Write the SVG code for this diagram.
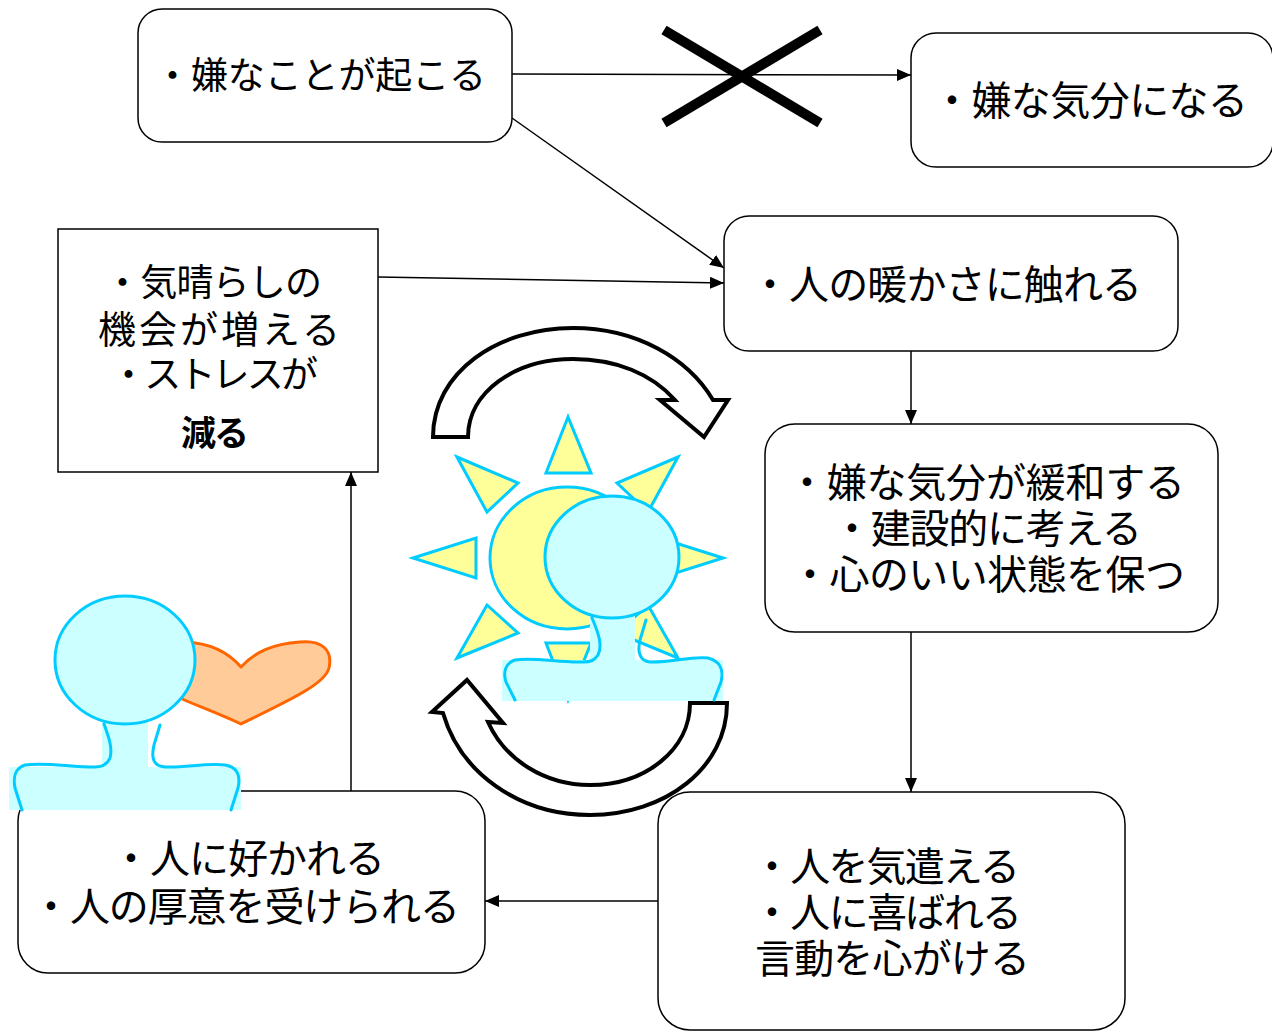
<svg xmlns="http://www.w3.org/2000/svg" width="1272" height="1032" viewBox="0 0 1272 1032">
  <defs>
    <style>
      .box { fill: #fff; stroke: #000; stroke-width: 1.5; }
      .t { font-family: "Noto Sans CJK JP", "Noto Sans", sans-serif; font-size: 40px; fill: #000; }
      .edge { fill: none; stroke: #000; stroke-width: 1.5; }
      .cycle { fill: #fff; stroke: #000; stroke-width: 4; stroke-linejoin: miter; }
      .ray { fill: #FFFF99; stroke: #00CCFF; stroke-width: 3; stroke-linejoin: miter; }
      .skin { fill: #CCFFFF; }
      .outline { fill: none; stroke: #00CCFF; stroke-width: 3; stroke-linecap: round; }
      .head { fill: #CCFFFF; stroke: #00CCFF; stroke-width: 3; }
    </style>
    <marker id="arr" markerWidth="14" markerHeight="12" refX="14" refY="6" orient="auto" markerUnits="userSpaceOnUse">
      <path d="M0,0 L14,6 L0,12 z" fill="#000"/>
    </marker>
  </defs>

  <!-- cycle arrows around the sun -->
  <g id="cycle-arrows">
    <path class="cycle" d="M433,437 C433,372 498,328 573,328 C636,328 688,358 713,400 L728,400 L704,437 L660,400 L675,400 C652,374 616,359 573,359 C515,359 468,392 468,437 Z"/>
    <path class="cycle" d="M727,703 C727,768 665,815 590,815 C518,815 460,772 443,713 L432,712 L467,680 L503,723 L488,722 C505,760 545,785 590,785 C645,785 690,750 690,703 Z"/>
  </g>

  <!-- sun -->
  <g id="sun">
    <polygon class="ray" points="568,417 546,473 591,473"/>
    <polygon class="ray" points="457,457 518,483 487,512"/>
    <polygon class="ray" points="678,457 617,483 648,512"/>
    <polygon class="ray" points="413,558 476,538 476,578"/>
    <polygon class="ray" points="723,558 660,538 660,578"/>
    <polygon class="ray" points="457,658 518,633 487,605"/>
    <polygon class="ray" points="678,658 617,633 648,605"/>
    <polygon class="ray" points="568,700 546,643 591,643"/>
    <ellipse class="ray" cx="567" cy="558" rx="77" ry="71"/>
  </g>

  <!-- person in front of the sun -->
  <g id="person-center">
    <rect class="skin" x="590" y="615" width="45" height="47"/>
    <rect class="skin" x="502" y="660" width="221" height="41"/>
    <ellipse class="head" cx="612" cy="557" rx="67" ry="61"/>
    <path class="outline" d="M592,618 C598,632 603,645 598,655 C594,661 590,662 583,662 C560,663 535,657 515,660 C505,663 503,673 506,682 L515,700"/>
    <path class="outline" d="M646,620 L640,640 C637,652 640,661 650,662 C670,663 690,656 708,658 C720,661 724,670 721,682 L714,700"/>
  </g>

  <!-- connectors -->
  <g id="connectors">
    <line class="edge" x1="512" y1="74" x2="911" y2="75" marker-end="url(#arr)"/>
    <line class="edge" x1="512" y1="118" x2="724" y2="268" marker-end="url(#arr)"/>
    <line class="edge" x1="378" y1="277" x2="724" y2="283" marker-end="url(#arr)"/>
    <line class="edge" x1="911" y1="351" x2="911" y2="424" marker-end="url(#arr)"/>
    <line class="edge" x1="911" y1="632" x2="911" y2="792" marker-end="url(#arr)"/>
    <line class="edge" x1="658" y1="901" x2="485" y2="901" marker-end="url(#arr)"/>
    <line class="edge" x1="351" y1="791" x2="351" y2="472" marker-end="url(#arr)"/>
  </g>

  <!-- cross over the blocked path -->
  <g id="cross">
    <line x1="664" y1="30" x2="820" y2="123" stroke="#000" stroke-width="10"/>
    <line x1="664" y1="123" x2="820" y2="30" stroke="#000" stroke-width="10"/>
  </g>

  <g id="node-trouble">
    <rect class="box" x="138" y="9" width="374" height="133" rx="24"/>
    <text class="t" x="154" y="89" style="font-size:37px" textLength="332">・嫌なことが起こる</text>
  </g>

  <g id="node-bad-mood">
    <rect class="box" x="911" y="33" width="362" height="134" rx="25"/>
    <text class="t" x="932" y="115" textLength="316">・嫌な気分になる</text>
  </g>

  <g id="node-warmth">
    <rect class="box" x="724" y="216" width="454" height="135" rx="25"/>
    <text class="t" x="750" y="299" textLength="392">・人の暖かさに触れる</text>
  </g>

  <g id="node-relief">
    <rect class="box" x="58" y="229" width="320" height="243"/>
    <text class="t" x="104" y="296" style="font-size:37px" textLength="218">・気晴らしの</text>
    <text class="t" x="98" y="343" style="font-size:38px" textLength="242">機会が増える</text>
    <text class="t" x="110" y="388" style="font-size:37px" textLength="208">・ストレスが</text>
    <text class="t" x="181" y="446" style="font-size:35px;font-weight:bold" textLength="68">減る</text>
  </g>

  <g id="node-calm">
    <rect class="box" x="765" y="424" width="453" height="208" rx="30"/>
    <text class="t" x="787" y="497" textLength="398">・嫌な気分が緩和する</text>
    <text class="t" x="832" y="543" textLength="310">・建設的に考える</text>
    <text class="t" x="790" y="589" textLength="395">・心のいい状態を保つ</text>
  </g>

  <g id="node-care">
    <rect class="box" x="658" y="792" width="467" height="238" rx="32"/>
    <text class="t" x="752" y="881" textLength="268">・人を気遣える</text>
    <text class="t" x="752" y="927" textLength="270">・人に喜ばれる</text>
    <text class="t" x="755" y="973" textLength="275">言動を心がける</text>
  </g>

  <g id="node-liked">
    <rect class="box" x="18" y="791" width="467" height="182" rx="30"/>
    <text class="t" x="111" y="873" textLength="274">・人に好かれる</text>
    <text class="t" x="31" y="921" textLength="429">・人の厚意を受けられる</text>
  </g>

  <!-- person with a heart -->
  <g id="person-heart">
    <path d="M241,667 C255,652 272,644 300,642 C322,640 333,650 329,668 C325,684 290,700 241,724 C215,712 195,705 180,698 L185,642 C210,643 228,652 241,667 Z" fill="#FFCC99" stroke="#FF6600" stroke-width="3" stroke-linejoin="round"/>
    <rect class="skin" x="102" y="722" width="46" height="46"/>
    <rect class="skin" x="9" y="767" width="232" height="43"/>
    <ellipse class="head" cx="125" cy="660" rx="70" ry="64"/>
    <path class="outline" d="M104,724 C108,735 113,748 110,758 C107,765 102,767 95,767 C70,767 45,762 25,765 C15,768 13,778 15,788 L22,810"/>
    <path class="outline" d="M160,725 L154,745 C151,758 153,766 165,767 C185,768 205,763 225,765 C237,767 241,775 238,788 L231,810"/>
  </g>
</svg>
